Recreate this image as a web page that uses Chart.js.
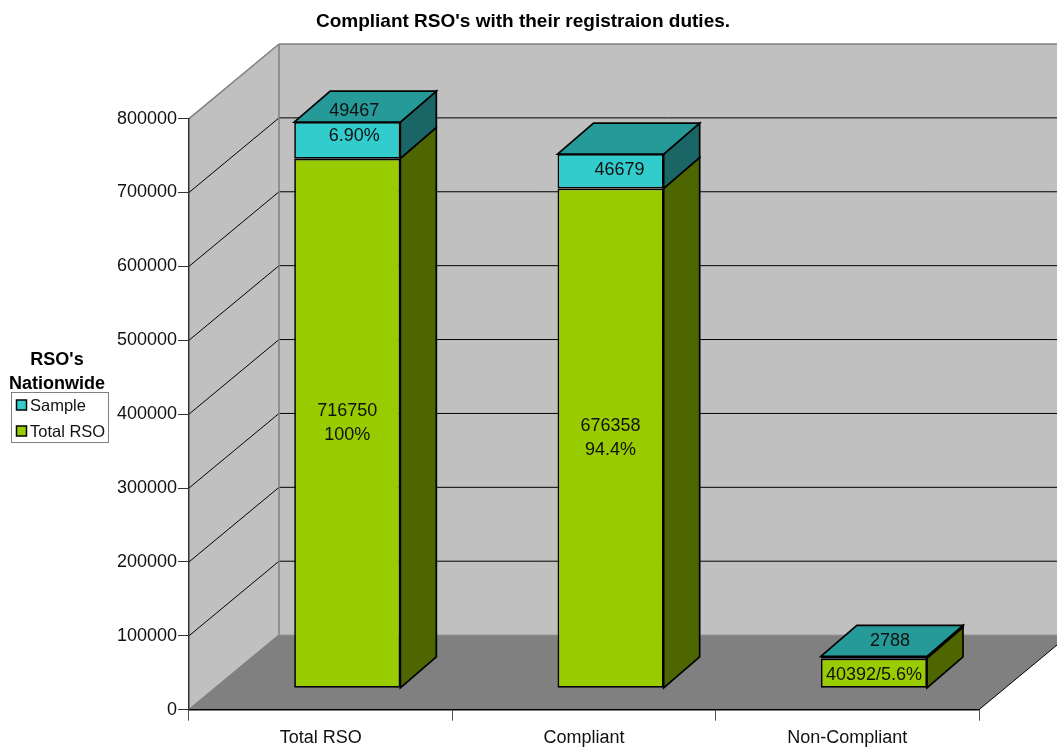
<!DOCTYPE html>
<html>
<head>
<meta charset="utf-8">
<title>Compliant RSO's</title>
<style>
  html, body { margin: 0; padding: 0; background: #fff; }
  canvas { display: block; }
</style>
<script src="https://cdn.jsdelivr.net/npm/chart.js@4"></script>
</head>
<body>
<canvas id="chart" width="1057" height="747"></canvas>
<script>
const categories = ["Total RSO", "Compliant", "Non-Compliant"];
const totalRso = [716750, 676358, 40392];
const sample = [49467, 46679, 2788];
const yTicks = [0, 100000, 200000, 300000, 400000, 500000, 600000, 700000, 800000];
const axisTitle = ["RSO's", "Nationwide"];
const chartTitle = "Compliant RSO's with their registraion duties.";

const font = "'Liberation Sans', Arial, sans-serif";

// the fake 3d: how far the back wall and the bars sit from the front plane
const wallDx = 90, wallDy = 74.6;
const barDx = 26.6, barDy = 21.4;
const sideDx = 36, sideDy = 31;

const green = { front: "#99cc00", side: "#4d6600" };
const cyan = { front: "#33cccc", side: "#1a6666", top: "#269999" };
const faces = [green, cyan];

function line(ctx, x1, y1, x2, y2, color, width) {
  ctx.strokeStyle = color;
  ctx.lineWidth = width;
  ctx.beginPath();
  ctx.moveTo(x1, y1);
  ctx.lineTo(x2, y2);
  ctx.stroke();
}

function poly(ctx, pts, fill) {
  ctx.beginPath();
  pts.forEach((p, i) => i ? ctx.lineTo(p[0], p[1]) : ctx.moveTo(p[0], p[1]));
  ctx.closePath();
  ctx.fillStyle = fill;
  ctx.fill();
}

function label(ctx, text, x, y) {
  ctx.fillText(text, x, y);
}

const walls = {
  id: "walls",
  afterLayout(chart) {
    // title sits a little left of the canvas centre
    chart.titleBlock.left = 0;
    chart.titleBlock.right = 1046;
  },
  beforeDraw(chart) {
    const ctx = chart.ctx;
    const a = chart.chartArea;
    const yS = chart.scales.y;
    const backRight = a.right + wallDx;
    ctx.save();
    ctx.fillStyle = "#fff";
    ctx.fillRect(0, 0, chart.width, chart.height);

    poly(ctx, [[a.left + wallDx, a.top - wallDy], [backRight, a.top - wallDy],
      [backRight, a.bottom - wallDy], [a.left + wallDx, a.bottom - wallDy]], "#c0c0c0");
    poly(ctx, [[a.left, a.top], [a.left + wallDx, a.top - wallDy],
      [a.left + wallDx, a.bottom - wallDy], [a.left, a.bottom]], "#c0c0c0");
    poly(ctx, [[a.left, a.bottom], [a.left + wallDx, a.bottom - wallDy],
      [backRight, a.bottom - wallDy], [a.right, a.bottom]], "#808080");

    // grid runs along the side wall then the back wall
    yTicks.slice(1, -1).forEach(v => {
      const y = yS.getPixelForValue(v);
      line(ctx, a.left, y, a.left + wallDx, y - wallDy, "#000", 1);
      line(ctx, a.left + wallDx, y - wallDy, backRight, y - wallDy, "#000", 1);
    });
    line(ctx, a.left + wallDx, a.bottom - wallDy, backRight, a.bottom - wallDy, "#909090", 1);

    line(ctx, a.left, a.top, a.left + wallDx, a.top - wallDy, "#808080", 1.5);
    line(ctx, a.left + wallDx, a.top - wallDy, backRight, a.top - wallDy, "#808080", 1.5);
    line(ctx, a.left + wallDx, a.top - wallDy, a.left + wallDx, a.bottom - wallDy, "#808080", 1.5);
    line(ctx, a.left, a.bottom, a.left + wallDx, a.bottom - wallDy, "#808080", 1.5);
    line(ctx, a.right, a.bottom, backRight, a.bottom - wallDy, "#000", 1);
    ctx.restore();
  },
  beforeDatasetDraw(chart) {
    chart.ctx.save();
    chart.ctx.translate(barDx, -barDy);
  },
  afterDatasetDraw(chart, args) {
    const ctx = chart.ctx;
    const colors = faces[args.index];
    args.meta.data.forEach(bar => {
      const left = bar.x - bar.width / 2;
      const right = bar.x + bar.width / 2;
      const side = [[right, bar.y], [right + sideDx, bar.y - sideDy],
        [right + sideDx, bar.base - sideDy], [right, bar.base]];
      const top = [[left, bar.y], [left + sideDx, bar.y - sideDy],
        [right + sideDx, bar.y - sideDy], [right, bar.y]];
      const list = [[side, colors.side]];
      // green always has the sample sitting on it, so only sample shows a top
      if (colors.top) list.push([top, colors.top]);
      list.forEach(f => {
        poly(ctx, f[0], f[1]);
        ctx.strokeStyle = "#000";
        ctx.lineWidth = 1.7;
        ctx.stroke();
      });
    });
    ctx.restore();
  },
  afterDatasetsDraw(chart) {
    const ctx = chart.ctx;
    const g = chart.getDatasetMeta(0).data;
    const c = chart.getDatasetMeta(1).data;
    ctx.save();
    ctx.font = "18px " + font;
    ctx.fillStyle = "#111";
    ctx.textAlign = "center";
    ctx.textBaseline = "middle";
    const mid = bar => (bar.y + bar.base) / 2 - barDy;
    const cx = bar => bar.x + barDx;

    label(ctx, totalRso[0], cx(g[0]), mid(g[0]) - 12);
    label(ctx, "100%", cx(g[0]), mid(g[0]) + 12);
    label(ctx, "6.90%", cx(c[0]) + 7, mid(c[0]) - 4);
    label(ctx, sample[0], cx(c[0]) + 7, c[0].y - barDy - 11);

    label(ctx, totalRso[1], cx(g[1]), mid(g[1]) - 12);
    label(ctx, "94.4%", cx(g[1]), mid(g[1]) + 12);
    label(ctx, sample[1], cx(c[1]) + 9, mid(c[1]) - 1);

    label(ctx, totalRso[2] + "/5.6%", cx(g[2]), mid(g[2]) + 2);
    label(ctx, sample[2], cx(c[2]) + 16, c[2].y - barDy - 15);

    // axis title, horizontal over the legend
    ctx.font = "bold 18px " + font;
    ctx.fillStyle = "#000";
    label(ctx, axisTitle[0], 57, 360);
    label(ctx, axisTitle[1], 57, 384);

    // legend, sample listed first
    ctx.fillStyle = "#fff";
    ctx.fillRect(11.5, 392, 97, 51);
    ctx.strokeStyle = "#808080";
    ctx.lineWidth = 1;
    ctx.strokeRect(11.5, 392.5, 97, 50);
    ctx.font = "16.5px " + font;
    ctx.textAlign = "left";
    [1, 0].forEach((d, i) => {
      const y = 405 + i * 26;
      ctx.fillStyle = chart.data.datasets[d].backgroundColor;
      ctx.fillRect(16.5, y - 5, 10, 10);
      ctx.strokeStyle = "#000";
      ctx.lineWidth = 1.5;
      ctx.strokeRect(16.5, y - 5, 10, 10);
      ctx.fillStyle = "#111";
      ctx.fillText(chart.data.datasets[d].label, 30, y + 1);
    });
    ctx.restore();
  }
};

new Chart(document.getElementById("chart"), {
  type: "bar",
  data: {
    labels: categories,
    datasets: [
      { label: "Total RSO", data: totalRso, backgroundColor: green.front },
      { label: "Sample", data: sample, backgroundColor: cyan.front }
    ]
  },
  options: {
    responsive: false,
    animation: false,
    devicePixelRatio: 1,
    layout: { padding: { left: 0, right: 78, top: 0, bottom: 0 } },
    datasets: {
      bar: {
        categoryPercentage: 1,
        barPercentage: 0.403,
        borderColor: "#000",
        borderWidth: 1.7,
        borderSkipped: false
      }
    },
    plugins: {
      legend: { display: false },
      tooltip: { enabled: false },
      title: {
        display: true,
        text: chartTitle,
        color: "#000",
        font: { family: font, size: 19, weight: "bold" },
        padding: { top: 10, bottom: 85.8 }
      }
    },
    scales: {
      x: {
        stacked: true,
        afterFit: s => { s.height = 37.3; },
        border: { color: "#000", width: 1.5 },
        grid: { drawOnChartArea: false, drawTicks: true, tickLength: 11, color: "#555", lineWidth: 1 },
        ticks: { color: "#111", font: { family: font, size: 18 }, padding: 7, maxRotation: 0 }
      },
      y: {
        stacked: true,
        min: 0,
        max: 800000,
        afterFit: s => { s.width = 189; },
        afterBuildTicks: s => { s.ticks = yTicks.map(v => ({ value: v })); },
        border: { color: "#333", width: 1.5 },
        grid: { drawOnChartArea: false, drawTicks: true, tickLength: 11, color: "#333", lineWidth: 1 },
        ticks: { color: "#111", font: { family: font, size: 18 }, padding: 1, callback: v => String(v) }
      }
    }
  },
  plugins: [walls]
});
</script>
</body>
</html>
